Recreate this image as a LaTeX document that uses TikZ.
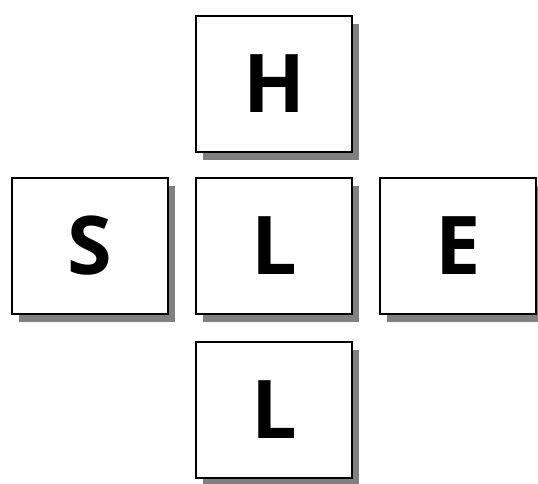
\documentclass[tikz,border=0pt]{standalone}
\usepackage{fontspec}
\setsansfont{Open Sans}
\usetikzlibrary{positioning, shadows}
\definecolor{ink}{HTML}{000000}
\definecolor{shade}{HTML}{808080}
\tikzset{
  font=\sffamily\bfseries,
  %
  tile/.style={
    draw=ink, line width=2pt, fill=white, text=ink,
    minimum width=156pt, minimum height=136pt, inner sep=0pt,
    font=\sffamily\bfseries\fontsize{81}{81}\selectfont,
    drop shadow={shadow xshift=7pt, shadow yshift=-8pt,
                 fill=shade, opacity=1},
  },
}
\begin{document}
\begin{tikzpicture}[x=1pt, y=1pt]
\useasboundingbox (0,0) rectangle (538,484);

% ---------------------------------------------------------------- cross
\node[tile] (lc) at (274,238) {L};
\node[tile, above=24pt of lc] (h)  {H};
\node[tile, left=26pt of lc]  (s)  {S};
\node[tile, right=26pt of lc] (e)  {E};
\node[tile, below=26pt of lc] (lb) {L};

\end{tikzpicture}
\end{document}
